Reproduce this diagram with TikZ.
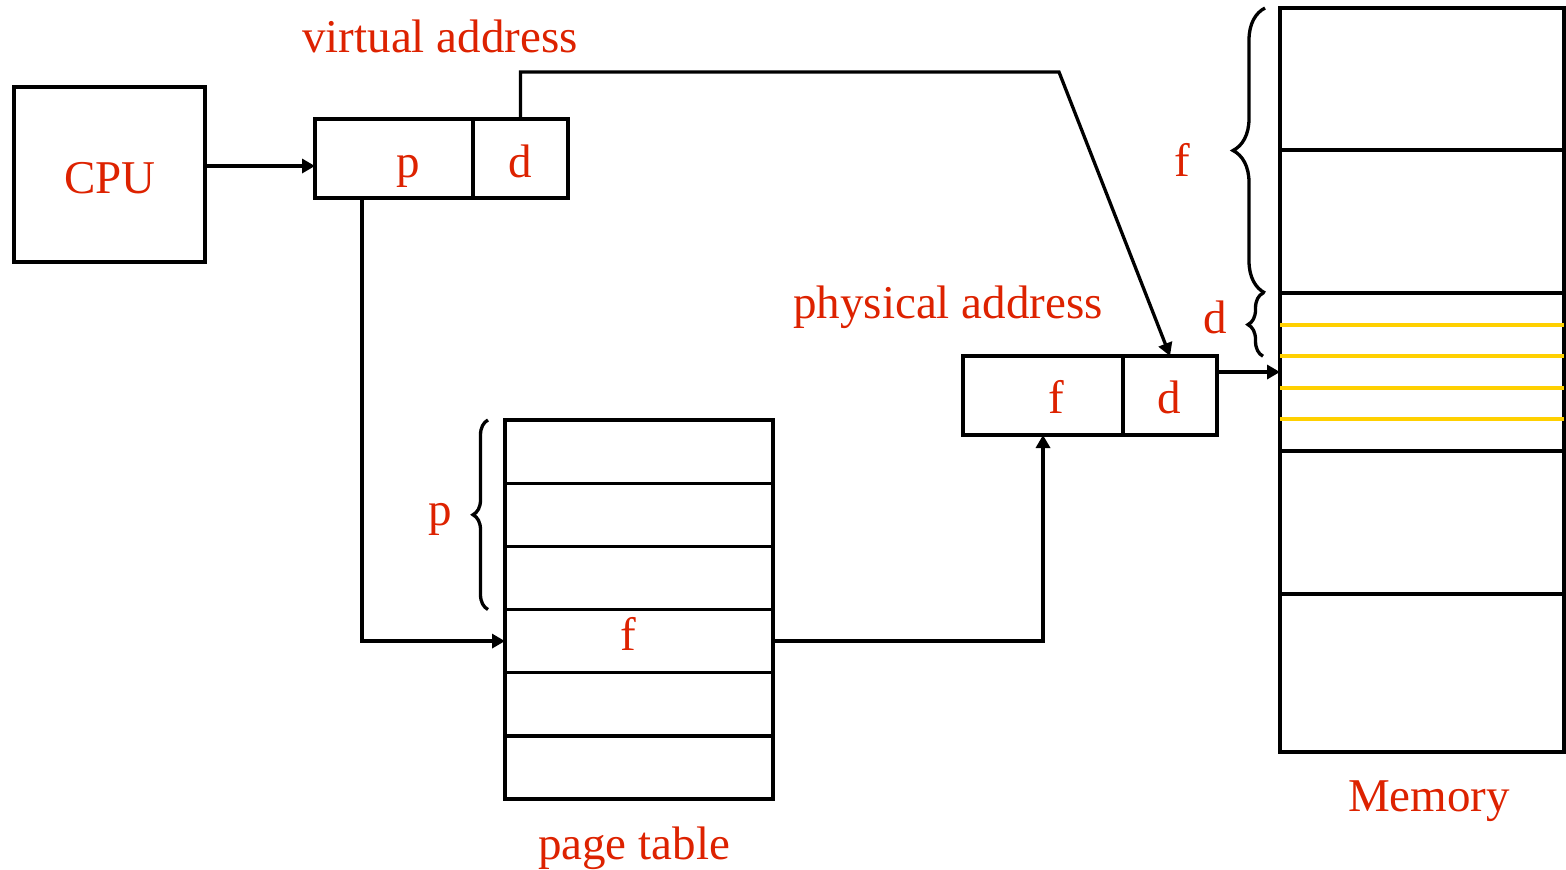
\documentclass[tikz,border=0pt]{standalone}
\usepackage{fontspec}
\setmainfont{Liberation Serif}
\usepackage{xcolor}
\usepackage{tikz}
\usetikzlibrary{arrows.meta, positioning, decorations.pathreplacing}

\definecolor{addrred}{RGB}{221,34,0}
\definecolor{offyellow}{RGB}{255,208,0}

\begin{document}
\begin{tikzpicture}[x=0.5pt,y=-0.5pt,>={Triangle[length=6.5pt,width=7pt]},line width=1.65pt]

                \tikzset{box/.style={draw, rectangle, outer sep=0pt, inner sep=0pt},
                         cell/.style={box, minimum height=39.5pt},
                         slot/.style={box, minimum width=134pt, minimum height=31.58pt},
                         frame/.style={box, minimum width=142pt},
                         lbl/.style={text=addrred, anchor=base, inner sep=0pt, font=\fontsize{23.5}{28}\selectfont},
                         link/.style={->, line cap=rect},
                         offset/.style={draw=offyellow, line width=2pt},
                         curly/.style={decorate, decoration={brace, amplitude=#1}}}

                \useasboundingbox (0,0) rectangle (1566,869);

                \node[box, minimum width=95.5pt, minimum height=87.5pt] (cpu) at (109.5,174.5) {};
                \node[cell, minimum width=79pt] (vp) at (394,158.5) {};
                \node[cell, minimum width=47.5pt] (vd) [right=0pt of vp] {};
                \node[cell, minimum width=80pt] (pf) at (1043,395.5) {};
                \node[cell, minimum width=47pt] (pd) [right=0pt of pf] {};

                \foreach \i in {1,...,6}
                    \node[slot] (pt\i) at (639,{388.4+63.17*\i}) {};

                \node[frame, minimum height=71pt] (m1) at (1422,79) {};
                \node[frame, minimum height=71.5pt] (m2) [below=0pt of m1] {};
                \node[frame, minimum height=79pt] (m3) [below=0pt of m2] {};
                \node[frame, minimum height=71.5pt] (m4) [below=0pt of m3] {};
                \node[frame, minimum height=79pt] (m5) [below=0pt of m4] {};

                \foreach \k in {1,...,4}
                    \draw[offset] ([yshift=-\k*15.8pt]m3.north west) -- ([yshift=-\k*15.8pt]m3.north east);

                \node[lbl] (cputext) at (110,193) {CPU};
                \node[lbl] (vptext) at (408,177) {p};
                \node[lbl] (vdtext) at (520,177) {d};
                \node[lbl] (pftext) at (1056,413) {f};
                \node[lbl] (pdtext) at (1169,413) {d};
                \node[lbl] (pttext) at (628,650) {f};
                \node[lbl] (vtitle) at (440,52) {virtual address};
                \node[lbl] (ptitle) at (948,318) {physical address};
                \node[lbl] (ttitle) at (634,859) {page table};
                \node[lbl] (mtitle) at (1429,811) {Memory};
                \node[lbl] (ftag) at (1182,176) {f};
                \node[lbl] (dtag) at (1215,333) {d};
                \node[lbl] (ptag) at (440,525) {p};

                \draw[curly=16pt] ([xshift=-7.5pt]m2.south west) -- ([xshift=-7.5pt]m1.north west);
                \draw[curly=7.5pt] ([xshift=-8.5pt,yshift=-31.6pt]m3.north west) -- ([xshift=-8.5pt]m3.north west);
                \draw[curly=7.5pt] ([xshift=-8.5pt]pt3.south west) -- ([xshift=-8.5pt]pt1.north west);

                \coordinate (bend) at (1059,72);

                \draw[link] ([yshift=4.25pt]cpu.east) -- ([yshift=4.25pt]cpu.east -| vp.west);
                \draw[link] (vd.north) |- (bend) -- (pd.north);
                \draw[link] ([xshift=-16pt]vp.south) |- (pt4.west);
                \draw[link] (pt4.east) -| (pf.south);
                \draw[link] ([yshift=11.75pt]pd.east) -- ([yshift=11.75pt]pd.east -| m3.west);
            \end{tikzpicture}
\end{document}
